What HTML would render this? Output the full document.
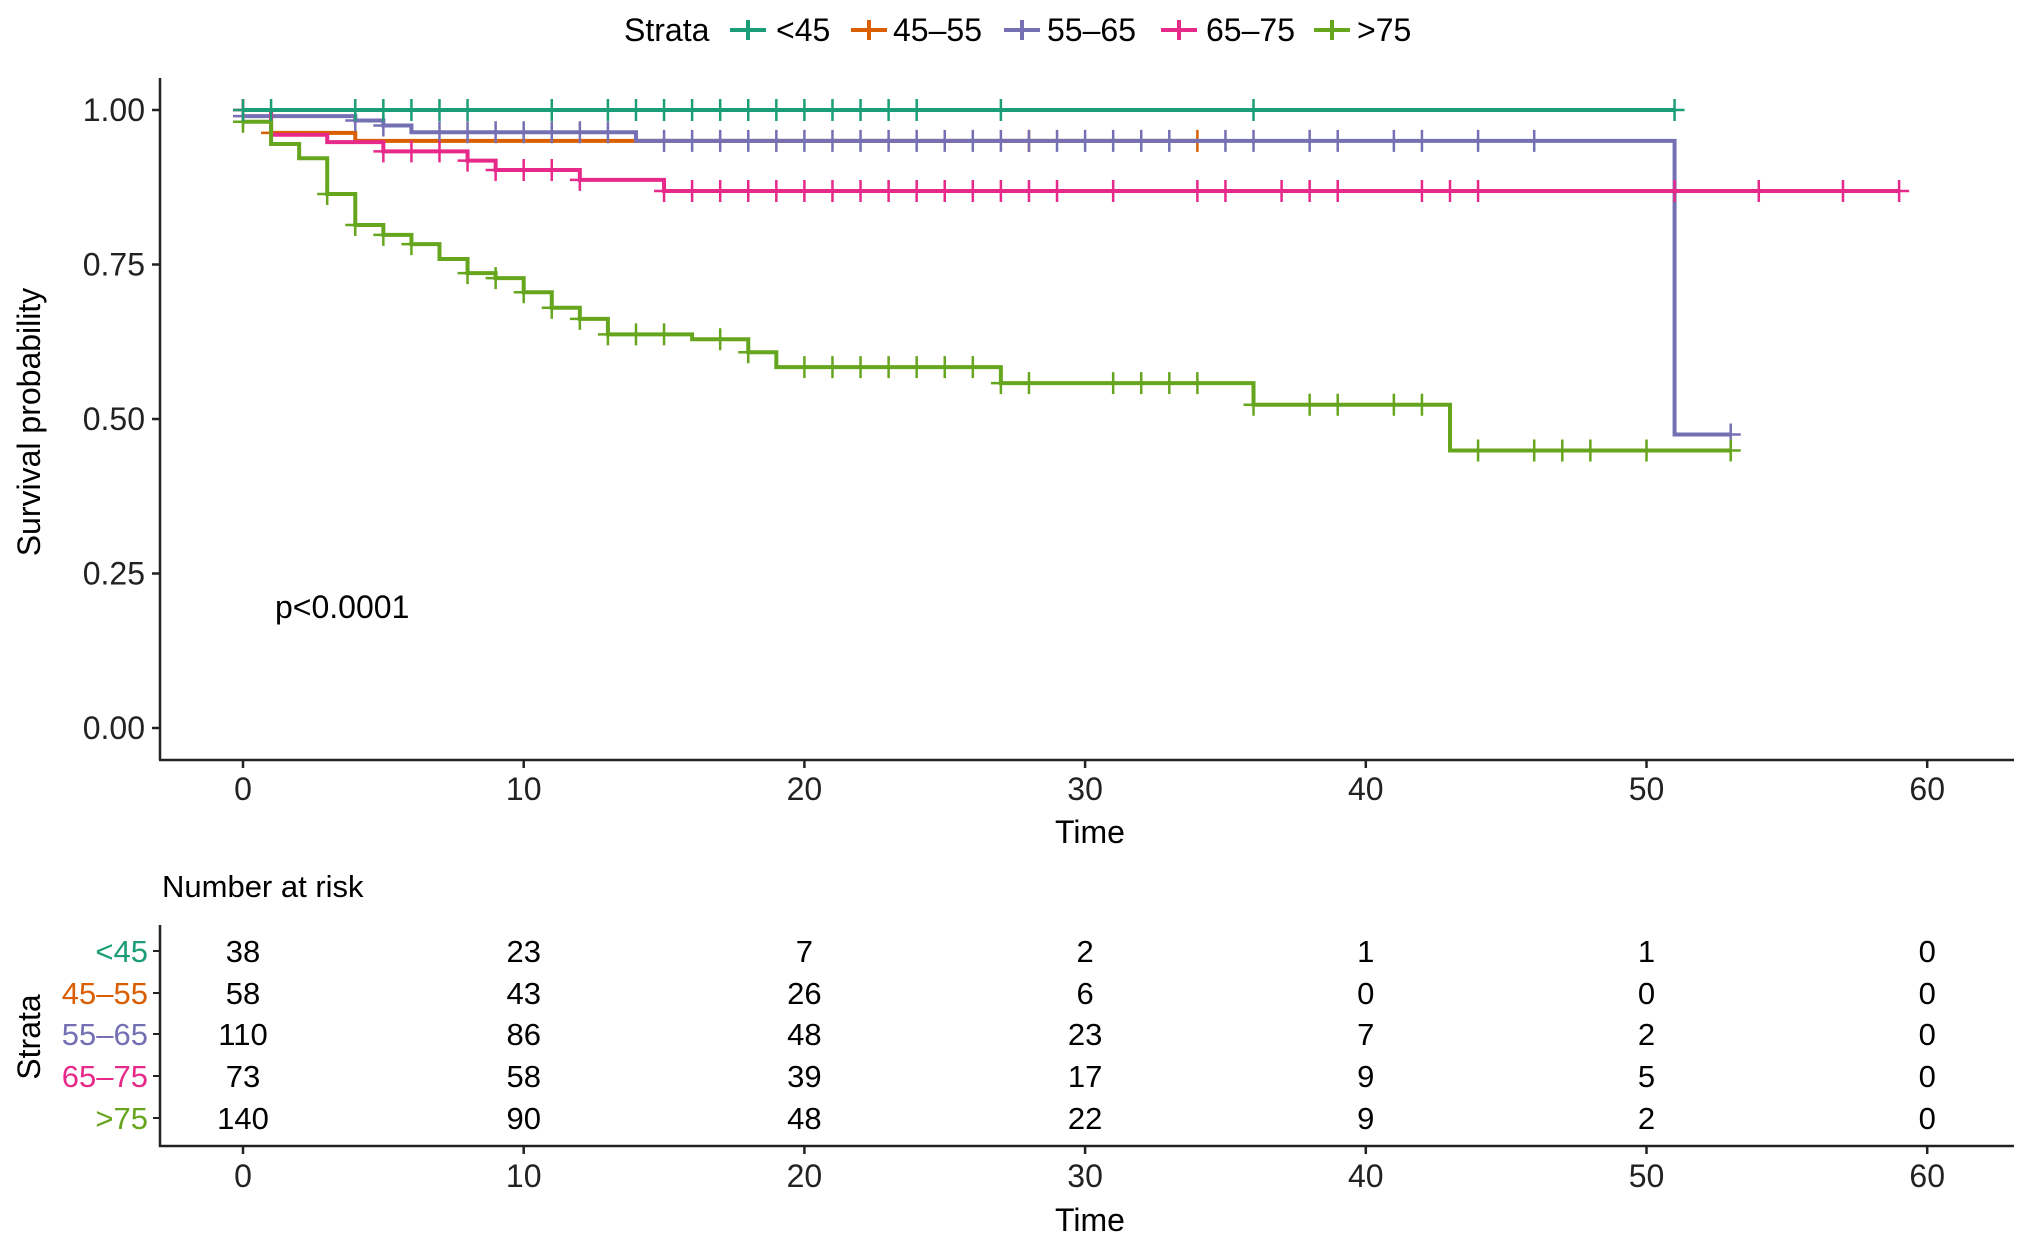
<!DOCTYPE html>
<html><head><meta charset="utf-8">
<style>
html,body{margin:0;padding:0;background:#fff;}
svg{display:block;font-family:"Liberation Sans",Arial,sans-serif;}
</style></head>
<body>
<svg id="chart" width="2031" height="1251" viewBox="0 0 2031 1251">
<g id="plot"></g>
<g id="risk"></g>
<g id="legend"></g>
</svg>
<script>
const strata = ['<45','45\u201355','55\u201365','65\u201375','>75'];
const colors = ['#1B9E77','#D95F02','#7570B3','#E7298A','#66A61E'];
// step times and survival values per stratum
const times0 = [0, 51];            const surv0 = [1.0, 1.0];
const times1 = [0, 1, 4, 34];      const surv1 = [1.0, 0.963, 0.95, 0.95];
const times2 = [0, 4, 5, 6, 14, 51, 53]; const surv2 = [0.99, 0.983, 0.975, 0.964, 0.95, 0.475, 0.475];
const times3 = [0, 1, 3, 5, 8, 9, 12, 15, 59]; const surv3 = [1.0, 0.96, 0.948, 0.933, 0.918, 0.903, 0.887, 0.869, 0.869];
const times4 = [0, 1, 2, 3, 4, 5, 6, 7, 8, 9, 10, 11, 12, 13, 16, 18, 19, 27, 36, 43, 53];
const surv4 = [0.981, 0.945, 0.922, 0.864, 0.814, 0.798, 0.783, 0.759, 0.736, 0.728, 0.705, 0.680, 0.662, 0.637, 0.629, 0.608, 0.584, 0.558, 0.523, 0.449, 0.449];
// censor times
const cens0 = [0,1,4,5,6,7,8,11,13,14,15,16,17,18,19,20,21,22,23,24,27,36,51];
const cens1 = [0,1,28,34];
const cens2 = [0,4,5,7,8,9,10,11,12,13,15,16,17,18,19,20,21,22,23,24,25,26,27,28,29,30,31,32,33,35,36,38,39,41,42,44,46,53];
const cens3 = [0,5,6,7,8,9,10,11,12,15,16,17,18,19,20,21,22,23,24,25,26,27,28,29,31,34,35,37,38,39,42,43,44,51,54,57,59];
const cens4 = [0,3,4,5,6,8,9,10,11,12,13,14,15,17,18,20,21,22,23,24,25,26,27,28,31,32,33,34,36,38,39,41,42,44,46,47,48,50,53];
const xTicks = [0,10,20,30,40,50,60];
const yTicks = [0,0.25,0.5,0.75,1.0];
const yTickLabels = ['0.00','0.25','0.50','0.75','1.00'];
const riskRows = [
 [38,23,7,2,1,1,0],
 [58,43,26,6,0,0,0],
 [110,86,48,23,7,2,0],
 [73,58,39,17,9,5,0],
 [140,90,48,22,9,2,0]
];
const pText = 'p<0.0001';

const NS='http://www.w3.org/2000/svg';
const X = t => 243 + 28.07*t;
const Y = p => 728 - 618*p;
function mk(tag, attrs, parent, text){
  const e=document.createElementNS(NS,tag);
  for(const k in attrs) e.setAttribute(k,attrs[k]);
  if(text!==undefined) e.textContent=text;
  parent.appendChild(e); return e;
}
const plot=document.getElementById('plot');
const risk=document.getElementById('risk');
const legend=document.getElementById('legend');

let ax=mk('line',{x1:160,y1:78,x2:160,y2:760,stroke:'#222','stroke-width':2.5},plot);
 
ax=mk('line',{x1:159,y1:760,x2:2014,y2:760,stroke:'#222','stroke-width':2.5},plot);
 
yTicks.forEach((v,i)=>{
  const tk=mk('line',{x1:152,y1:Y(v),x2:160,y2:Y(v),stroke:'#222','stroke-width':2.5},plot);
   
  const lb=mk('text',{x:145,y:Y(v)+11,'text-anchor':'end','font-size':32,fill:'#222'},plot,yTickLabels[i]);
   
});
xTicks.forEach(v=>{
  const tk=mk('line',{x1:X(v),y1:760,x2:X(v),y2:768,stroke:'#222','stroke-width':2.5},plot);
   
  const lb=mk('text',{x:X(v),y:800,'text-anchor':'middle','font-size':32,fill:'#222'},plot,String(v));
   
});
let t=mk('text',{x:1090,y:843,'text-anchor':'middle','font-size':32,fill:'#000'},plot,'Time');
 
t=mk('text',{x:0,y:0,'text-anchor':'middle','font-size':32,fill:'#000',transform:'translate(40,422) rotate(-90)'},plot,'Survival probability');
 
t=mk('text',{x:275,y:618,'font-size':32,fill:'#000'},plot,pText);
 

const allT=[times0,times1,times2,times3,times4];
const allS=[surv0,surv1,surv2,surv3,surv4];
const allC=[cens0,cens1,cens2,cens3,cens4];
function survAt(ts,ss,c){let v=ss[0];for(let i=0;i<ts.length;i++){if(ts[i]<=c)v=ss[i];}return v;}
[1,2,3,4,0].forEach(k=>{
  const ts=allT[k], ss=allS[k];
  let d='M'+X(ts[0])+','+Y(ss[0]);
  for(let i=1;i<ts.length;i++){ d+=' H'+X(ts[i])+' V'+Y(ss[i]); }
  const p=mk('path',{d:d,fill:'none',stroke:colors[k],'stroke-width':4},plot);
  
  
  allC[k].forEach(c=>{
    const v=survAt(ts,ss,c);
    const m=mk('path',{d:'M'+(X(c)-10)+','+Y(v)+' h20 M'+X(c)+','+(Y(v)-11)+' v22',stroke:colors[k],'stroke-width':2.5,fill:'none'},plot);
     
  });
});

t=mk('text',{x:624,y:41,'font-size':32,fill:'#000'},legend,'Strata');
 
const legKeyX=[730,851,1004,1161,1314];
const legTextX=[776,893,1047,1206,1357];
strata.forEach((s,k)=>{
  const g=mk('g',{},legend);
   
  mk('path',{d:'M'+legKeyX[k]+',30 h36 M'+(legKeyX[k]+18)+',20 v20',stroke:colors[k],'stroke-width':4,fill:'none'},g);
  mk('text',{x:legTextX[k],y:41,'font-size':32,fill:'#000'},g,s);
});

t=mk('text',{x:162,y:897,'font-size':31,fill:'#000'},risk,'Number at risk');
 
ax=mk('line',{x1:160,y1:925,x2:160,y2:1147,stroke:'#222','stroke-width':2.5},risk);
 
ax=mk('line',{x1:159,y1:1146,x2:2014,y2:1146,stroke:'#222','stroke-width':2.5},risk);
 
const rowY=[951,993,1034,1076,1118];
strata.forEach((s,k)=>{
  const lb=mk('text',{x:148,y:rowY[k]+11,'text-anchor':'end','font-size':31,fill:colors[k]},risk,s);
   
  mk('line',{x1:153,y1:rowY[k],x2:160,y2:rowY[k],stroke:'#222','stroke-width':2},risk);
  riskRows[k].forEach((n,j)=>{
    const c=mk('text',{x:X(xTicks[j]),y:rowY[k]+11,'text-anchor':'middle','font-size':31,fill:'#000'},risk,String(n));
     
  });
});
xTicks.forEach(v=>{
  mk('line',{x1:X(v),y1:1146,x2:X(v),y2:1154,stroke:'#222','stroke-width':2.5},risk);
  const lb=mk('text',{x:X(v),y:1187,'text-anchor':'middle','font-size':32,fill:'#222'},risk,String(v));
   
});
t=mk('text',{x:1090,y:1231,'text-anchor':'middle','font-size':32,fill:'#000'},risk,'Time');
 
t=mk('text',{x:0,y:0,'text-anchor':'middle','font-size':32,fill:'#000',transform:'translate(40,1037) rotate(-90)'},risk,'Strata');
 
</script>
</body></html>
